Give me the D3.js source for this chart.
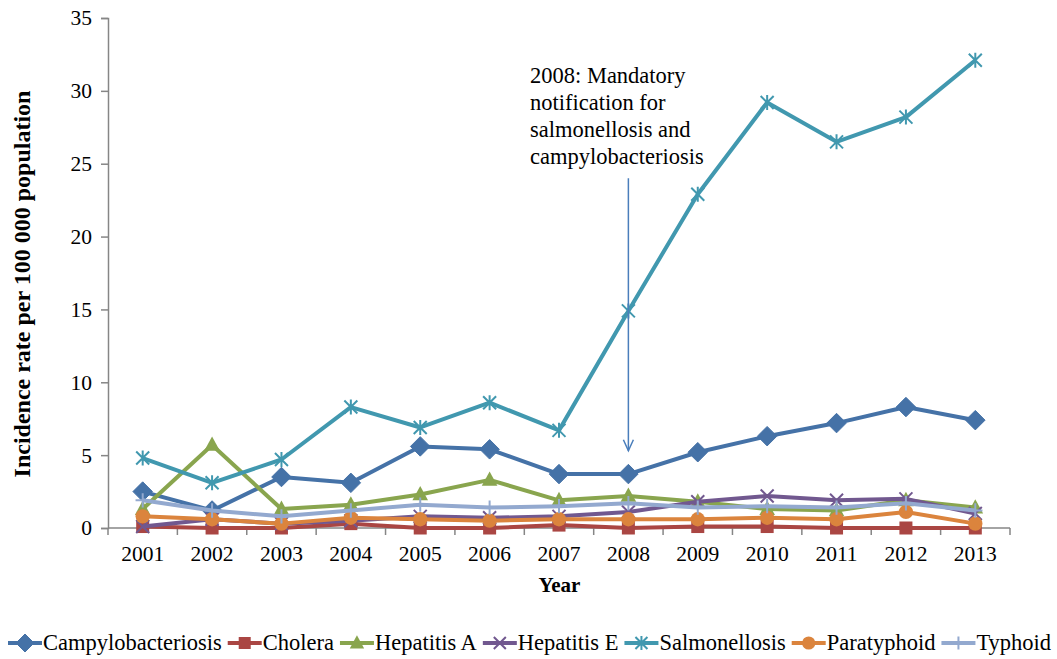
<!DOCTYPE html>
<html><head><meta charset="utf-8">
<script src="https://cdn.jsdelivr.net/npm/d3@7"></script>
<style>body{margin:0;background:#fff;} text{font-family:"Liberation Serif","Times New Roman",serif;fill:#000;}</style>
</head><body><svg id="c" width="1057" height="659"></svg>
<script>
const years = ["2001","2002","2003","2004","2005","2006","2007","2008","2009","2010","2011","2012","2013"];
const yTicks = [0,5,10,15,20,25,30,35];
const campylobacteriosis = [2.5,1.2,3.5,3.1,5.6,5.4,3.7,3.7,5.2,6.3,7.2,8.3,7.4];
const cholera = [0.1,0.0,0.0,0.3,0.0,0.0,0.2,0.0,0.1,0.1,0.0,0.0,0.0];
const hepatitisA = [1.3,5.7,1.3,1.6,2.3,3.3,1.9,2.2,1.8,1.3,1.2,1.9,1.4];
const hepatitisE = [0.1,0.6,0.3,0.5,0.8,0.7,0.8,1.1,1.8,2.2,1.9,2.0,1.0];
const salmonellosis = [4.8,3.1,4.7,8.3,6.9,8.6,6.7,14.9,22.9,29.2,26.5,28.2,32.1];
const paratyphoid = [0.8,0.6,0.3,0.7,0.6,0.5,0.6,0.6,0.6,0.7,0.6,1.1,0.3];
const typhoid = [1.9,1.2,0.8,1.2,1.6,1.4,1.5,1.7,1.4,1.5,1.4,1.7,1.2];
const seriesNames = ["Campylobacteriosis","Cholera","Hepatitis A","Hepatitis E","Salmonellosis","Paratyphoid","Typhoid"];
const seriesValues = [campylobacteriosis,cholera,hepatitisA,hepatitisE,salmonellosis,paratyphoid,typhoid];
const colors = ["#4572A7","#AA4643","#89A54E","#71588F","#4198AF","#DB843D","#93A9CF"];
const markers = ["diamond","square","triangle","x","star","circle","plus"];
const annotationLines = ["2008: Mandatory","notification for","salmonellosis and","campylobacteriosis"];

const svg = d3.select("#c");
const L = 108, R = 1010, T = 18, B = 528;
const x = d3.scalePoint().domain(years).range([L, R]).padding(0.5);
const y = d3.scaleLinear().domain([0,35]).range([B, T]);
const axisColor = "#868686";

// y axis
const ya = svg.append("g").attr("transform",`translate(${L},0)`)
  .call(d3.axisLeft(y).tickValues(yTicks).tickSize(7).tickPadding(9));
ya.select(".domain").attr("stroke",axisColor).attr("stroke-width",1.5);
ya.selectAll(".tick line").attr("stroke",axisColor).attr("stroke-width",1.5);
ya.selectAll("text").style("font-size","21.5px").style("font-family","Liberation Serif").attr("fill","#000");

// x axis
const xa = svg.append("g").attr("transform",`translate(0,${B})`);
xa.append("line").attr("x1",L).attr("x2",R).attr("stroke",axisColor).attr("stroke-width",1.5);
const step = x.step();
d3.range(years.length+1).forEach(i=>{
  const xx = L + i*step;
  xa.append("line").attr("x1",xx).attr("x2",xx).attr("y1",0).attr("y2",7).attr("stroke",axisColor).attr("stroke-width",1.5);
});
xa.selectAll("text.yl").data(years).join("text").attr("class","yl")
  .attr("x",d=>x(d)).attr("y",33).attr("text-anchor","middle").style("font-size","21.5px").text(d=>d);

// axis titles
svg.append("text").attr("x", x("2008")-69).attr("y",592).attr("text-anchor","middle")
  .style("font-size","21px").style("font-weight","bold").text("Year");
svg.append("text").attr("transform",`translate(30,284) rotate(-90)`).attr("text-anchor","middle")
  .style("font-size","24px").style("font-weight","bold").text("Incidence rate per 100 000 population");

function drawMarker(g, type, cx, cy, color, s){
  if(type==="diamond"){
    g.append("path").attr("d",`M${cx},${cy-s*0.75}L${cx+s*0.75},${cy}L${cx},${cy+s*0.75}L${cx-s*0.75},${cy}Z`).attr("fill",color).attr("stroke",color);
  } else if(type==="square"){
    g.append("rect").attr("x",cx-s/2).attr("y",cy-s/2).attr("width",s).attr("height",s).attr("fill",color);
  } else if(type==="triangle"){
    g.append("path").attr("d",`M${cx},${cy-s*0.65}L${cx+s*0.6},${cy+s*0.45}L${cx-s*0.6},${cy+s*0.45}Z`).attr("fill",color);
  } else if(type==="circle"){
    g.append("circle").attr("cx",cx).attr("cy",cy).attr("r",s*0.55).attr("fill",color);
  } else if(type==="x"){
    const h=s*0.5;
    g.append("path").attr("d",`M${cx-h},${cy-h}L${cx+h},${cy+h}M${cx-h},${cy+h}L${cx+h},${cy-h}`).attr("stroke",color).attr("stroke-width",2).attr("fill","none");
  } else if(type==="star"){
    const h=s*0.5;
    g.append("path").attr("d",`M${cx-h},${cy-h}L${cx+h},${cy+h}M${cx-h},${cy+h}L${cx+h},${cy-h}M${cx},${cy-h-1}L${cx},${cy+h+1}`).attr("stroke",color).attr("stroke-width",2).attr("fill","none");
  } else if(type==="plus"){
    const h=s*0.55;
    g.append("path").attr("d",`M${cx},${cy-h}L${cx},${cy+h}M${cx-h},${cy}L${cx+h},${cy}`).attr("stroke",color).attr("stroke-width",2).attr("fill","none");
  }
}

const line = d3.line().x((d,i)=>x(years[i])).y(d=>y(d));
seriesValues.forEach((vals,k)=>{
  const g = svg.append("g");
  g.append("path").datum(vals).attr("d",line).attr("fill","none").attr("stroke",colors[k])
    .attr("stroke-width",4).attr("stroke-linejoin","round");
  vals.forEach((v,i)=>drawMarker(g, markers[k], x(years[i]), y(v), colors[k], 13));
});

// annotation
const ax = x("2008");
svg.append("line").attr("x1",ax).attr("x2",ax).attr("y1",y(24.0)).attr("y2",y(5.3))
  .attr("stroke","#4A7EBB").attr("stroke-width",1.5);
svg.append("path").attr("d",`M${ax-5},${y(5.3)-11}L${ax},${y(5.3)}L${ax+5},${y(5.3)-11}`)
  .attr("stroke","#4A7EBB").attr("stroke-width",1.5).attr("fill","none");
annotationLines.forEach((t,i)=>{
  svg.append("text").attr("x",530).attr("y",83+i*27).style("font-size","22.5px").text(t);
});

// legend
let lx = 8;
const ly = 643;
seriesNames.forEach((n,k)=>{
  const g = svg.append("g");
  g.append("line").attr("x1",lx).attr("x2",lx+34).attr("y1",ly).attr("y2",ly).attr("stroke",colors[k]).attr("stroke-width",4);
  drawMarker(g, markers[k], lx+17, ly, colors[k], 12);
  const t = g.append("text").attr("x",lx+35).attr("y",ly+7).style("font-size","22.5px").text(n);
  lx += 35 + t.node().getComputedTextLength() + 6;
});
</script></body></html>
